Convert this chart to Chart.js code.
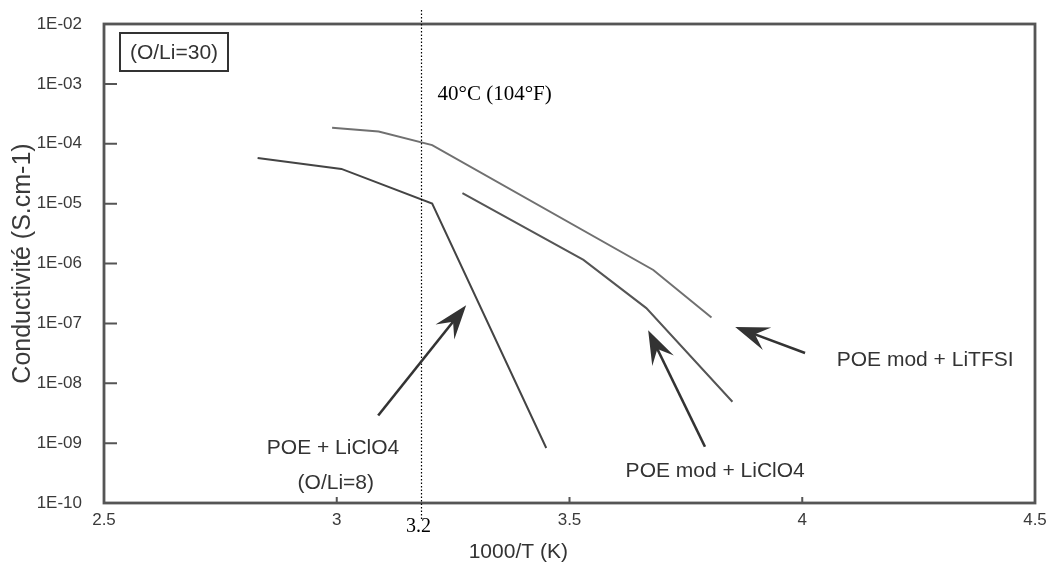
<!DOCTYPE html>
<html>
<head>
<meta charset="utf-8">
<script src="https://cdn.jsdelivr.net/npm/chart.js@4.4.1/dist/chart.umd.min.js"></script>
<style>
html, body { margin: 0; padding: 0; background: #fff; }
</style>
</head>
<body>
<canvas id="myChart" width="1051" height="565"></canvas>
<script>
// POE + LiClO4 (O/Li=8)
let xPoe = [2.83, 3.01, 3.205, 3.45];
let yPoe = [5.8e-5, 3.8e-5, 1.0e-5, 8.3e-10];

// POE mod + LiTFSI
let xTfsi = [2.99, 3.09, 3.205, 3.68, 3.805];
let yTfsi = [1.85e-4, 1.6e-4, 9.5e-5, 7.8e-7, 1.25e-7];

// POE mod + LiClO4
let xMod = [3.27, 3.53, 3.665, 3.85];
let yMod = [1.5e-5, 1.15e-6, 1.8e-7, 4.9e-9];

let xTicks = [2.5, 3, 3.5, 4, 4.5];
let yTicks = [1e-10, 1e-9, 1e-8, 1e-7, 1e-6, 1e-5, 1e-4, 1e-3, 1e-2];

let markerX = 3.18;
let markerLabel = "3.2";

// arrows: [tail x, tail y, head x, head y]
let arrows = [
    [3.089, 2.9e-9, 3.278, 2.0e-7],
    [3.791, 8.7e-10, 3.669, 7.7e-8],
    [4.006, 3.2e-8, 3.856, 8.7e-8]
];

let notes = [
    { text: "POE + LiClO4", x: 2.992, y: -9.078 },
    { text: "(O/Li=8)", x: 2.998, y: -9.663 },
    { text: "POE mod + LiClO4", x: 3.813, y: -9.462 },
    { text: "POE mod + LiTFSI", x: 4.264, y: -7.609 }
];

function pts(xs, ys) {
    return xs.map((x, i) => ({ x: x, y: ys[i] }));
}

function lineSet(label, xs, ys, color) {
    return {
        label: label,
        data: pts(xs, ys),
        showLine: true,
        borderColor: color,
        borderWidth: 2,
        pointRadius: 0,
        tension: 0,
        fill: false
    };
}

let sansFont = "'Liberation Sans', Arial, sans-serif";
let serifFont = "'Liberation Serif', 'Times New Roman', serif";

let extras = {
    id: 'extras',
    afterDatasetsDraw(chart) {
        let ctx = chart.ctx;
        let a = chart.chartArea;
        let sx = chart.scales.x;
        let sy = chart.scales.y;
        ctx.save();

        // frame
        ctx.strokeStyle = '#555';
        ctx.lineWidth = 2.8;
        ctx.strokeRect(a.left, a.top, a.right - a.left, a.bottom - a.top);

        // inward ticks
        ctx.lineWidth = 2;
        ctx.beginPath();
        yTicks.slice(1, -1).forEach(v => {
            let py = sy.getPixelForValue(v);
            ctx.moveTo(a.left, py);
            ctx.lineTo(a.left + 13, py);
        });
        xTicks.slice(1, -1).forEach(v => {
            let px = sx.getPixelForValue(v);
            ctx.moveTo(px, a.bottom);
            ctx.lineTo(px, a.bottom - 6);
        });
        ctx.stroke();

        // dotted marker line
        let mx = Math.round(sx.getPixelForValue(markerX)) + 0.5;
        ctx.strokeStyle = '#000';
        ctx.lineWidth = 1.2;
        ctx.setLineDash([1.5, 2]);
        ctx.beginPath();
        ctx.moveTo(mx, a.top - 14);
        ctx.lineTo(mx, a.bottom + 16);
        ctx.stroke();
        ctx.setLineDash([]);

        ctx.fillStyle = '#000';
        ctx.font = '20px ' + serifFont;
        ctx.textAlign = 'center';
        ctx.textBaseline = 'middle';
        ctx.fillText(markerLabel, mx - 3, a.bottom + 24);
        ctx.textAlign = 'left';
        ctx.font = '21px ' + serifFont;
        ctx.fillText('40°C (104°F)', mx + 16, sy.getPixelForValue(Math.pow(10, -3.185)));

        // arrows
        ctx.strokeStyle = '#333';
        ctx.fillStyle = '#333';
        arrows.forEach(r => {
            let x0 = sx.getPixelForValue(r[0]), y0 = sy.getPixelForValue(r[1]);
            let x1 = sx.getPixelForValue(r[2]), y1 = sy.getPixelForValue(r[3]);
            let len = Math.hypot(x0 - x1, y0 - y1);
            let ux = (x0 - x1) / len, uy = (y0 - y1) / len;
            let nx = -uy, ny = ux;
            ctx.lineWidth = 2.6;
            ctx.beginPath();
            ctx.moveTo(x0, y0);
            ctx.lineTo(x1 + ux * 14, y1 + uy * 14);
            ctx.stroke();
            ctx.beginPath();
            ctx.moveTo(x1, y1);
            ctx.lineTo(x1 + ux * 34 + nx * 12, y1 + uy * 34 + ny * 12);
            ctx.lineTo(x1 + ux * 21, y1 + uy * 21);
            ctx.lineTo(x1 + ux * 34 - nx * 12, y1 + uy * 34 - ny * 12);
            ctx.closePath();
            ctx.fill();
        });

        // labels
        ctx.fillStyle = '#333';
        ctx.font = '21px ' + sansFont;
        ctx.textAlign = 'center';
        notes.forEach(n => {
            ctx.fillText(n.text, sx.getPixelForValue(n.x), sy.getPixelForValue(Math.pow(10, n.y)));
        });

        // (O/Li=30) box
        ctx.lineWidth = 2;
        ctx.strokeRect(a.left + 16, a.top + 9, 108, 38);
        ctx.fillText('(O/Li=30)', a.left + 70, a.top + 29);

        // x axis title
        ctx.fillText('1000/T (K)', sx.getPixelForValue(3.39), a.bottom + 49);

        ctx.restore();
    }
};

let chart1 = new Chart(document.getElementById("myChart").getContext('2d'), {
    type: 'scatter',
    data: {
        datasets: [
            lineSet("POE + LiClO4 (O/Li=8)", xPoe, yPoe, '#444'),
            lineSet("POE mod + LiTFSI", xTfsi, yTfsi, '#707070'),
            lineSet("POE mod + LiClO4", xMod, yMod, '#555')
        ]
    },
    options: {
        responsive: false,
        animation: false,
        layout: { padding: { top: 24, right: 16, left: 0, bottom: 0 } },
        plugins: {
            legend: { display: false },
            tooltip: { enabled: false }
        },
        scales: {
            x: {
                type: 'linear',
                min: 2.5,
                max: 4.5,
                grid: { display: false, drawTicks: false },
                border: { display: false },
                afterBuildTicks: s => { s.ticks = xTicks.map(v => ({ value: v })); },
                afterFit: s => { s.height = 62; s.paddingRight = 0; s.paddingLeft = 0; },
                ticks: {
                    autoSkip: false,
                    maxRotation: 0,
                    padding: 7,
                    color: '#3a3a3a',
                    font: { family: sansFont, size: 17 },
                    callback: v => String(v)
                }
            },
            y: {
                type: 'logarithmic',
                min: 1e-10,
                max: 1e-2,
                grid: { display: false, drawTicks: false },
                border: { display: false },
                afterBuildTicks: s => { s.ticks = yTicks.map(v => ({ value: v })); },
                afterFit: s => { s.width = 104; s.paddingTop = 0; s.paddingBottom = 0; },
                ticks: {
                    autoSkip: false,
                    padding: 22,
                    color: '#3a3a3a',
                    font: { family: sansFont, size: 17 },
                    callback: v => '1E-' + String(-Math.round(Math.log10(v))).padStart(2, '0')
                },
                title: {
                    display: true,
                    text: 'Conductivité (S.cm-1)',
                    color: '#3a3a3a',
                    font: { family: sansFont, size: 25 },
                    padding: { top: 8 }
                }
            }
        }
    },
    plugins: [extras]
});
</script>
</body>
</html>
